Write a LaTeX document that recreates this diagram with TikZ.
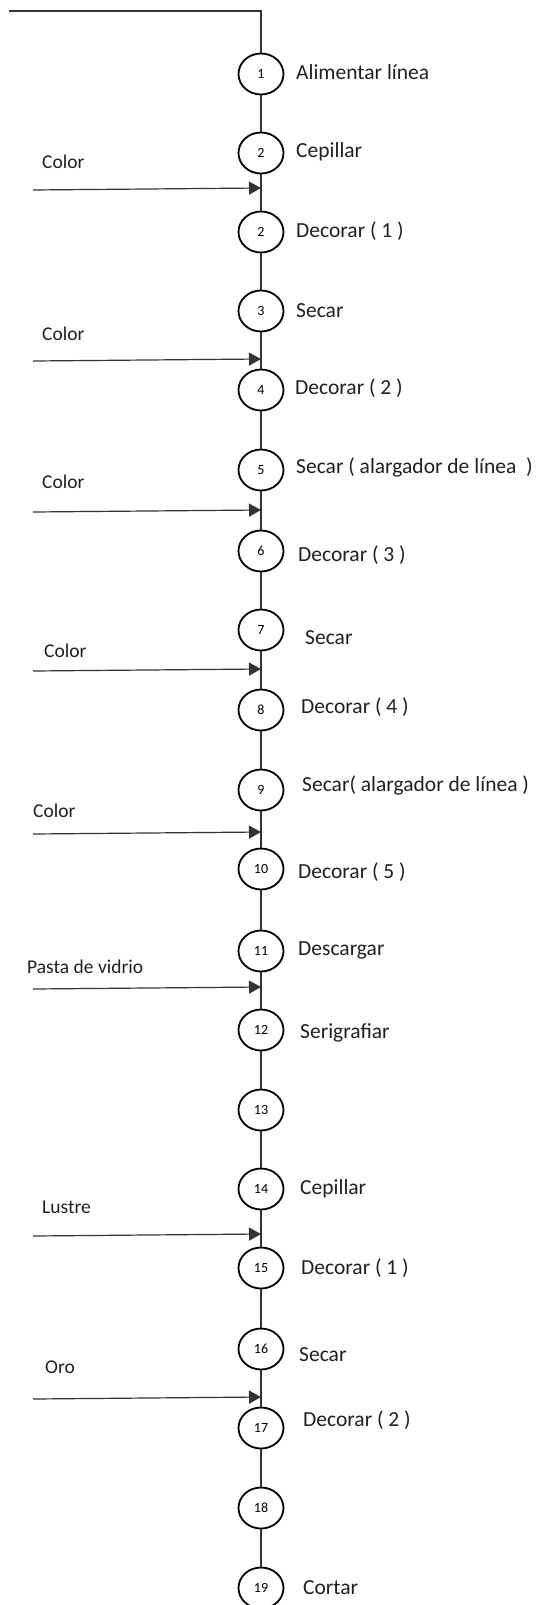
\documentclass[tikz,border=0pt]{standalone}
\usepackage{fontspec}
\setmainfont{Carlito}
\usetikzlibrary{shapes.geometric,arrows.meta}
\tikzset{
  opcircle/.style={ellipse, draw=black, line width=1.8pt, minimum width=45pt, minimum height=41pt, inner sep=0pt, font=\fontsize{14}{14}\selectfont},
  oplabel/.style={anchor=west, inner sep=0pt, font=\fontsize{21.5}{22}\selectfont, text=black!88},
  inlabel/.style={anchor=west, inner sep=0pt, font=\fontsize{19.5}{20}\selectfont, text=black!88},
  flow/.style={draw=black!80, line width=1.2pt},
  feed/.style={draw=black!80, line width=1.2pt, -{Triangle[length=12pt,width=13pt]}}
}
\begin{document}
\begin{tikzpicture}[x=1pt,y=-1pt]
\useasboundingbox (0,0) rectangle (542,1605);
% process circles
\foreach \i/\num/\yy in {1/1/74, 2/2/153, 3/2/232, 4/3/311, 5/4/390, 6/5/470, 7/6/551, 8/7/630, 9/8/710, 10/9/790, 11/10/869, 12/11/951, 13/12/1030, 14/13/1110, 15/14/1189, 16/15/1268, 17/16/1349, 18/17/1428, 19/18/1508, 20/19/1588}
  \node[opcircle] (n\i) at (261,\yy) {\num};
% operation labels
\node[oplabel] (l1) at (296,72) {Alimentar línea};
\node[oplabel] (l2) at (296,152) {Cepillar};
\node[oplabel] (l3) at (296,231) {Decorar ( 1 )};
\node[oplabel] (l4) at (296,311) {Secar};
\node[oplabel] (l5) at (295,388) {Decorar ( 2 )};
\node[oplabel] (l6) at (296,467) {Secar ( alargador de línea \ )};
\node[oplabel] (l7) at (298,555) {Decorar ( 3 )};
\node[oplabel] (l8) at (305,638) {Secar};
\node[oplabel] (l9) at (301,707) {Decorar ( 4 )};
\node[oplabel] (l10) at (302,785) {Secar( alargador de línea )};
\node[oplabel] (l11) at (298,872) {Decorar ( 5 )};
\node[oplabel] (l12) at (298,950) {Descargar};
\node[oplabel] (l13) at (300,1033) {Serigrafiar};
\node[oplabel] (l15) at (300,1189) {Cepillar};
\node[oplabel] (l16) at (301,1268) {Decorar ( 1 )};
\node[oplabel] (l17) at (299,1355) {Secar};
\node[oplabel] (l18) at (303,1420) {Decorar ( 2 )};
\node[oplabel] (l20) at (303,1588) {Cortar};
% main flow
\coordinate (top) at (9,11);
\draw[flow] (top) -| (n1);
\foreach \i [evaluate=\i as \j using int(\i+1)] in {1,...,19}
  \draw[flow] (n\i) -- (n\j);
% input labels
\node[inlabel] (i1) at (42,162) {Color};
\node[inlabel] (i2) at (42,334) {Color};
\node[inlabel] (i3) at (42,482) {Color};
\node[inlabel] (i4) at (44,651) {Color};
\node[inlabel] (i5) at (33,811) {Color};
\node[inlabel] (i6) at (27,967) {Pasta de vidrio};
\node[inlabel] (i7) at (42,1207) {Lustre};
\node[inlabel] (i8) at (45,1367) {Oro};
% input arrows
\foreach \k/\yy in {1/188, 2/359, 3/510, 4/669, 5/832, 6/987, 7/1234, 8/1397} {
  \coordinate (s\k) at (33,\yy+2);
  \coordinate (e\k) at (261,\yy);
  \draw[feed] (s\k) -- (e\k);
}
\end{tikzpicture}
\end{document}
